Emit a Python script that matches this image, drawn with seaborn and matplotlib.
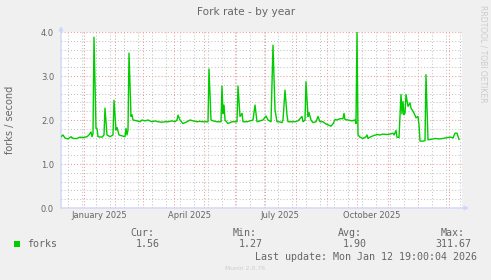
import matplotlib
matplotlib.use("Agg")
import matplotlib.pyplot as plt
import matplotlib.dates as mdates
from matplotlib.patches import Rectangle
import seaborn as sns
import pandas as pd

# ---- data ----
start_date = "2024-12-09"
end_date = "2026-01-14"
minor_grid_start = "2024-12-16"
days = [0, 2, 4, 7, 10, 12, 16, 19, 22, 26, 28, 30, 31, 32, 33, 35, 36, 37, 41, 43,
        44, 46, 49, 52, 53, 55, 56, 58, 61, 64, 65, 66, 67, 68, 70, 71, 72, 76, 79, 81,
        84, 87, 91, 94, 97, 101, 104, 107, 111, 114, 116, 117, 119, 122, 126, 129, 132,
        136, 139, 142, 146, 147, 148, 150, 152, 156, 159, 160, 161, 162, 163, 164, 167,
        171, 174, 176, 177, 179, 181, 182, 186, 189, 192, 194, 196, 199, 202, 205, 207,
        210, 212, 214, 216, 218, 221, 222, 224, 226, 227, 231, 234, 237, 241, 242, 244,
        245, 247, 248, 250, 252, 255, 257, 259, 262, 265, 267, 270, 272, 274, 276, 279,
        282, 283, 284, 287, 291, 294, 295, 296, 297, 299, 302, 305, 306, 307, 309, 312,
        316, 319, 322, 326, 329, 332, 333, 335, 336, 338, 340, 341, 342, 343, 344, 345,
        347, 349, 350, 352, 354, 355, 357, 358, 359, 362, 364, 365, 367, 370, 374, 378,
        382, 386, 390, 392, 394, 396, 398]
forks = [1.62, 1.66, 1.59, 1.57, 1.62, 1.58, 1.58, 1.61, 1.60, 1.62, 1.66, 1.73, 1.62,
         1.69, 3.88, 1.81, 1.81, 1.62, 1.61, 1.66, 2.27, 1.66, 1.62, 1.66, 2.45, 1.77,
         1.83, 1.66, 1.64, 1.62, 1.81, 1.66, 1.77, 3.52, 2.08, 2.12, 2.00, 1.98, 1.96,
         2.00, 1.98, 2.00, 1.96, 1.98, 1.96, 1.95, 1.96, 1.96, 1.98, 1.96, 2.00, 2.11,
         2.00, 1.92, 1.96, 2.00, 1.98, 1.96, 1.97, 1.96, 1.96, 1.96, 3.16, 2.00, 1.98,
         1.96, 1.96, 1.96, 2.77, 2.15, 2.34, 2.00, 1.92, 1.96, 1.96, 1.96, 2.77, 2.08,
         2.15, 1.96, 1.96, 1.98, 2.00, 2.34, 1.96, 1.98, 2.00, 2.09, 2.00, 1.96, 3.70,
         2.23, 1.96, 1.96, 1.94, 2.00, 2.68, 2.11, 1.96, 1.96, 1.96, 1.98, 2.08, 1.96,
         2.00, 2.87, 2.08, 2.17, 2.00, 1.94, 1.96, 2.08, 1.96, 1.96, 1.91, 1.89, 1.86,
         1.91, 2.01, 2.00, 2.03, 2.03, 2.15, 2.01, 2.00, 1.98, 2.00, 1.92, 3.99, 1.66,
         1.61, 1.58, 1.62, 1.66, 1.58, 1.61, 1.64, 1.67, 1.66, 1.68, 1.67, 1.68, 1.70,
         1.66, 1.76, 1.61, 1.60, 2.58, 2.14, 2.42, 2.12, 2.16, 2.58, 2.31, 2.39, 2.27,
         2.20, 2.11, 2.05, 2.08, 1.89, 1.52, 1.52, 1.53, 3.03, 1.55, 1.56, 1.58, 1.57,
         1.58, 1.60, 1.61, 1.59, 1.70, 1.70, 1.56]
y_ticks = [0.0, 1.0, 2.0, 3.0, 4.0]
x_label_dates = ["2025-01-16", "2025-04-16", "2025-07-16", "2025-10-16"]
x_label_texts = ["January 2025", "April 2025", "July 2025", "October 2025"]
legend_name = "forks"
stat_names = ["Cur:", "Min:", "Avg:", "Max:"]
stat_values = ["1.56", "1.27", "1.90", "311.67"]

# ---- styling ----
W, H = 491, 280
BG = "#F0F0F0"
FONT = "#666666"
AXIS = "#CFD6F8"
GREEN = "#00CC00"

fig = plt.figure(figsize=(W / 100, H / 100), dpi=100, facecolor=BG)
L, R, T, B = 61, 462, 32, 208
ax = fig.add_axes([L / W, 1 - B / H, (R - L) / W, (B - T) / H])
ax.set_facecolor("white")

start = pd.Timestamp(start_date)
dates = start + pd.to_timedelta(days, unit="D")
df = pd.DataFrame({"date": dates, "forks": forks})
sns.lineplot(data=df, x="date", y="forks", ax=ax, color=GREEN, linewidth=1.0, zorder=5)

ax.set_xlim(start, pd.Timestamp(end_date))
ax.set_ylim(0, 4.0)

ax.xaxis.set_major_locator(mdates.MonthLocator())
minor_dates = pd.date_range(minor_grid_start, end_date, freq="14D")
ax.set_xticks(mdates.date2num(minor_dates), minor=True)
ax.set_yticks(y_ticks)
ax.set_yticklabels([f"{v:.1f}" for v in y_ticks])
ax.yaxis.set_minor_locator(matplotlib.ticker.MultipleLocator(0.2))

ax.grid(which="minor", color="#C4C4C4", linestyle=(0, (1, 2)), linewidth=0.75, zorder=1)
ax.grid(which="major", color="#F29A9A", linestyle=(0, (1, 2)), linewidth=0.75, zorder=2)
ax.set_axisbelow(True)

ax.tick_params(axis="x", which="both", length=0, labelbottom=False)
ax.tick_params(axis="y", which="both", length=0, pad=5, labelsize=6, labelcolor=FONT)
ax.set_xlabel("")
ax.set_ylabel("")
for s in ax.spines.values():
    s.set_visible(False)

# axis lines with arrows
ax.annotate("", xy=(0, 1 + 6 / (B - T)), xytext=(0, 0), xycoords="axes fraction",
            arrowprops=dict(arrowstyle="-|>", color=AXIS, lw=1.0, mutation_scale=6,
                            shrinkA=0, shrinkB=0), annotation_clip=False)
ax.annotate("", xy=(1 + 7 / (R - L), 0), xytext=(0, 0), xycoords="axes fraction",
            arrowprops=dict(arrowstyle="-|>", color=AXIS, lw=1.0, mutation_scale=6,
                            shrinkA=0, shrinkB=0), annotation_clip=False)

# x labels (centered mid-month as rrdtool does)
trans = matplotlib.transforms.blended_transform_factory(ax.transData, fig.transFigure)
for d, t in zip(x_label_dates, x_label_texts):
    ax.text(mdates.date2num(pd.Timestamp(d)), 1 - 215 / H, t, transform=trans,
            ha="center", va="center", fontsize=6, color=FONT, clip_on=False)

def ftext(x, y, s, **kw):
    fig.text(x / W, 1 - y / H, s, **kw)

ftext(246, 12, "Fork rate - by year", ha="center", va="center", fontsize=7.6, color=FONT)
ftext(10, 120, "forks / second", ha="center", va="center", rotation=90, fontsize=7, color=FONT)
ftext(483.5, 5, "RRDTOOL / TOBI OETIKER", ha="center", va="top", rotation=270,
      fontsize=5.5, color="#CCCCCC")

mono = dict(family="DejaVu Sans Mono", fontsize=7.2, color=FONT, va="center", ha="left")
fig.patches.append(Rectangle((14 / W, 1 - 247 / H), 6 / W, 6 / H, transform=fig.transFigure,
                             facecolor=GREEN, edgecolor="none"))
ftext(27, 244, legend_name, **mono)
name_x = [130, 233, 338, 441]
val_right = [160, 263, 367, 471]
for nx, vr, n, v in zip(name_x, val_right, stat_names, stat_values):
    ftext(nx, 233, n, **mono)
    ftext(vr, 244, v, **{**mono, "ha": "right"})
ftext(477, 257, "Last update: Mon Jan 12 19:00:04 2026", **{**mono, "ha": "right"})
ftext(245, 268, "Munin 2.0.76", ha="center", va="center", fontsize=4.4, color="#CCCCCC")

fig.savefig("out.png", dpi=100, facecolor=BG)
